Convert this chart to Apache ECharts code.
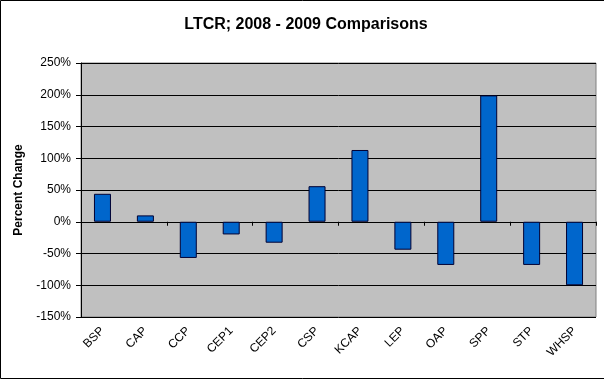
<!DOCTYPE html>
<html>
<head>
<meta charset="utf-8">
<script src="https://cdn.jsdelivr.net/npm/echarts@6/dist/echarts.min.js"></script>
<style>html,body{margin:0;padding:0;background:#fff}#c{width:604px;height:380px}</style>
</head>
<body>
<div id="c"></div>
<script>
var categories = ['BSP','CAP','CCP','CEP1','CEP2','CSP','KCAP','LEP','OAP','SPP','STP','WHSP'];
var values = [44, 10, -57, -20, -33, 56, 113, -44, -68, 199, -68, -100];
var yMin = -150, yMax = 250, yStep = 50;

var chart = echarts.init(document.getElementById('c'), null, {renderer:'canvas'});
var font = '"Liberation Sans", Arial, sans-serif';
chart.setOption({
  animation: false,
  backgroundColor: '#fff',
  title: {
    text: 'LTCR; 2008 - 2009 Comparisons',
    left: 301, top: 12, textAlign: 'center',
    textStyle: {fontFamily: font, fontSize: 16, fontWeight: 'bold', color: '#000'}
  },
  graphic: [{
    type: 'rect', silent: true, z: -1,
    shape: {x: 0.5, y: 0.5, width: 606, height: 378},
    style: {fill: 'none', stroke: '#000', lineWidth: 1}
  }],
  grid: {
    left: 81, right: 8, top: 63, bottom: 63,
    show: true, backgroundColor: '#C0C0C0', borderColor: '#808080', borderWidth: 1
  },
  xAxis: [{
    type: 'category', data: categories, position: 'bottom',
    axisLine: {onZero: true, lineStyle: {color: '#000', width: 1}},
    axisTick: {show: true, inside: false, length: 4, lineStyle: {color: '#000'}},
    axisLabel: {show: false},
    splitLine: {show: false}
  }, {
    type: 'category', data: categories, position: 'bottom',
    axisLine: {show: false, onZero: false},
    axisTick: {show: false},
    axisLabel: {show: true, rotate: 45, margin: 12, interval: 0,
      fontFamily: font, fontSize: 12, color: '#000'},
    splitLine: {show: false}
  }],
  yAxis: {
    type: 'value', min: yMin, max: yMax, interval: yStep,
    name: 'Percent Change', nameLocation: 'middle', nameGap: 56, nameRotate: 90,
    nameTextStyle: {fontFamily: font, fontSize: 12, fontWeight: 'bold', color: '#000'},
    axisLine: {show: true, lineStyle: {color: '#000', width: 1}},
    axisTick: {show: true, length: 5, lineStyle: {color: '#000'}},
    axisLabel: {formatter: '{value}%', margin: 10, fontFamily: font, fontSize: 12, color: '#000'},
    splitLine: {show: true, lineStyle: {color: '#000', width: 1}}
  },
  series: [{
    type: 'bar', data: values, xAxisIndex: 0, barWidth: 17,
    itemStyle: {color: '#0066CC', borderColor: '#000033', borderWidth: 1}
  }]
});
</script>
</body>
</html>
